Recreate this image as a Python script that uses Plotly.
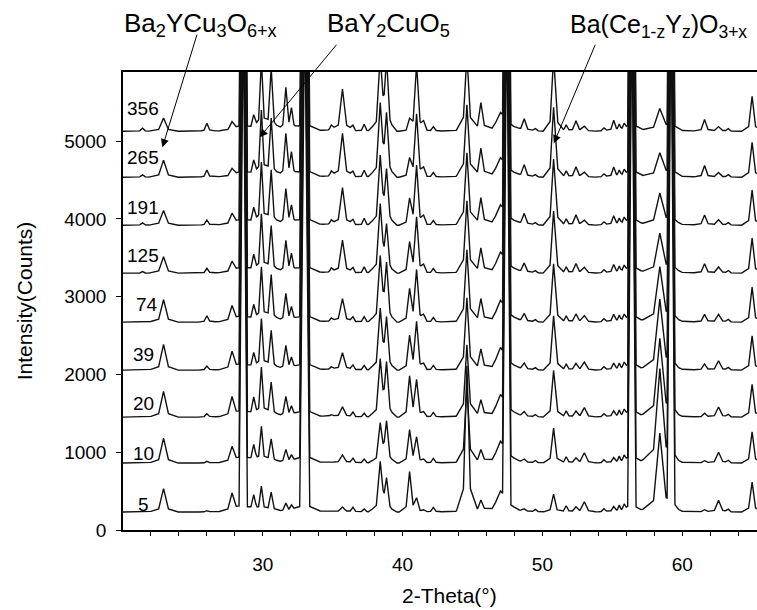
import plotly.graph_objects as go

# ---------------- data ----------------
samples = ["5", "10", "20", "39", "74", "125", "191", "265", "356"]
baselines = [231, 861, 1452, 2056, 2673, 3303, 3920, 4537, 5128]

# peak positions (2-theta, deg) and half base widths (deg)
peak_2theta = [21.4, 22.9, 26.0, 27.8, 28.6, 29.35, 29.9, 30.6, 31.65, 32.05,
               33.0, 34.9, 35.7, 36.45, 37.25, 38.4, 38.85, 40.5, 41.0, 41.5,
               42.2, 44.6, 45.6, 47.0, 47.45, 48.7, 49.5, 50.8, 51.7, 52.4,
               53.0, 54.4, 55.1, 55.5, 55.85, 56.4, 58.4, 59.2, 61.6, 62.6,
               63.3, 65.0, 28.6, 33.0, 44.6, 47.45, 56.4, 59.2]
peak_halfwidth = [0.2, 0.35, 0.2, 0.3, 0.3, 0.2, 0.2, 0.22, 0.22, 0.18,
                  0.36, 0.2, 0.3, 0.2, 0.2, 0.28, 0.25, 0.25, 0.25, 0.2,
                  0.2, 0.25, 0.25, 0.6, 0.3, 0.25, 0.2, 0.25, 0.2, 0.25,
                  0.3, 0.2, 0.2, 0.15, 0.15, 0.3, 0.45, 0.28, 0.25, 0.3,
                  0.2, 0.25, 1.0, 1.1, 0.8, 0.8, 0.8, 0.8]

# peak heights above baseline (counts) for every sample
h_5 = [0, 300, 15, 220, 6500, 190, 320, 245, 100, 60,
       6500, 0, 60, 60, 40, 620, 385, 510, 150, 20,
       60, 1800, 130, 220, 6500, 30, 30, 230, 80, 60,
       130, 40, 60, 70, 60, 6500, 1000, 6500, 30, 150,
       30, 385, 80, 100, 80, 100, 100, 80]
h_10 = [0, 320, 20, 190, 6500, 205, 460, 300, 160, 70,
        6500, 0, 100, 60, 50, 480, 500, 410, 310, 30,
        60, 900, 150, 230, 6500, 40, 30, 450, 80, 60,
        130, 40, 60, 70, 60, 6500, 1200, 6500, 30, 140,
        30, 400, 80, 100, 80, 100, 100, 80]
h_20 = [0, 330, 40, 240, 6500, 220, 630, 440, 250, 100,
        6500, 20, 130, 60, 50, 700, 650, 500, 450, 40,
        60, 850, 200, 240, 6500, 60, 30, 600, 80, 70,
        120, 40, 70, 70, 60, 6500, 1000, 6500, 50, 130,
        30, 420, 80, 100, 80, 100, 100, 80]
h_39 = [0, 330, 50, 220, 6500, 190, 650, 500, 300, 120,
        6500, 30, 220, 60, 60, 750, 620, 410, 600, 50,
        60, 850, 250, 240, 6500, 80, 30, 700, 80, 80,
        100, 40, 80, 70, 60, 6500, 900, 6500, 80, 120,
        30, 440, 80, 100, 80, 100, 100, 80]
h_74 = [0, 290, 80, 190, 6500, 190, 700, 600, 350, 150,
        6500, 40, 300, 60, 70, 800, 700, 390, 650, 60,
        60, 850, 280, 230, 6500, 100, 30, 750, 80, 100,
        80, 40, 90, 70, 60, 6500, 700, 6500, 100, 100,
        30, 450, 80, 100, 80, 100, 100, 80]
h_125 = [20, 210, 60, 130, 6500, 205, 750, 600, 400, 200,
         6500, 50, 420, 60, 80, 850, 560, 360, 700, 70,
         60, 850, 300, 220, 6500, 120, 30, 800, 80, 120,
         70, 40, 100, 70, 60, 6500, 500, 6500, 120, 80,
         30, 450, 80, 100, 80, 100, 100, 80]
h_191 = [30, 190, 65, 130, 6500, 190, 800, 700, 450, 200,
         6500, 50, 480, 60, 90, 850, 650, 300, 750, 80,
         60, 850, 330, 210, 6500, 140, 30, 850, 80, 130,
         60, 40, 110, 70, 60, 6500, 400, 6500, 130, 70,
         30, 450, 80, 100, 80, 100, 100, 80]
h_265 = [30, 220, 90, 90, 6500, 180, 850, 750, 540, 260,
         6500, 60, 560, 60, 90, 900, 750, 200, 800, 80,
         60, 850, 350, 200, 6500, 150, 30, 900, 80, 130,
         60, 40, 120, 70, 60, 6500, 300, 6500, 150, 60,
         30, 450, 80, 100, 80, 100, 100, 80]
h_356 = [40, 170, 100, 100, 6500, 170, 900, 800, 540, 235,
         6500, 60, 540, 60, 90, 900, 850, 110, 850, 80,
         60, 900, 345, 190, 6500, 150, 30, 950, 80, 130,
         60, 40, 130, 70, 60, 6500, 280, 6500, 150, 60,
         30, 450, 80, 100, 80, 100, 100, 80]
heights = [h_5, h_10, h_20, h_39, h_74, h_125, h_191, h_265, h_356]

x_tick_values = list(range(22, 66, 2))
x_tick_labels = [str(v) if v % 10 == 0 else "" for v in x_tick_values]
y_tick_values = [0, 1000, 2000, 3000, 4000, 5000]
phase_labels = ["Ba<sub>2</sub>YCu<sub>3</sub>O<sub>6+x</sub>",
                "BaY<sub>2</sub>CuO<sub>5</sub>",
                "Ba(Ce<sub>1-z</sub>Y<sub>z</sub>)O<sub>3+x</sub>"]

# ---------------- layout constants ----------------
X_MIN, X_MAX = 20.0, 65.35
Y_MAX = 5890
FONT = "Liberation Sans, Arial, sans-serif"
CORE, TAIL, TAIL_SPREAD = 0.8, 0.2, 3.0   # peak profile: sharp core + broad foot

fig = go.Figure()
for name, base, hts in zip(samples, baselines, heights):
    breaks = [X_MIN, X_MAX]
    for p, w in zip(peak_2theta, peak_halfwidth):
        breaks += [p - TAIL_SPREAD * w, p - w, p, p + w, p + TAIL_SPREAD * w]
    xs = sorted(set(b for b in breaks if X_MIN <= b <= X_MAX))
    ys = []
    for x in xs:
        s = base
        for p, w, h in zip(peak_2theta, peak_halfwidth, hts):
            d = abs(x - p)
            if h >= 3000:            # off-scale reflections drawn as plain spikes
                s += h * max(0.0, 1 - d / w)
            else:
                s += h * (CORE * max(0.0, 1 - d / w) + TAIL * max(0.0, 1 - d / (TAIL_SPREAD * w)))
        ys.append(s)
    fig.add_trace(go.Scatter(x=xs, y=ys, mode="lines", name=name,
                             line=dict(color="#111111", width=1.4), showlegend=False,
                             hoverinfo="skip"))

# sample labels
label_x = [21.5, 21.5, 21.46, 21.46, 21.74, 21.46, 21.4, 21.46, 21.46]
label_y = [334, 990, 1632, 2262, 2905, 3535, 4152, 4794, 5424]
for name, lx, ly in zip(samples, label_x, label_y):
    fig.add_annotation(x=lx, y=ly, text=name, showarrow=False,
                       font=dict(family=FONT, size=19, color="black"),
                       xanchor="center", yanchor="middle")

# phase labels (paper coords derived from pixel positions)
def px_to_paper(px, py):
    return (px - 123) / 634.0, (530 - py) / 458.0

for txt, (px, py), size in zip(phase_labels, [(122, 25), (325, 25), (568, 26)], [26, 26, 25]):
    xp, yp = px_to_paper(px, py)
    fig.add_annotation(x=xp, y=yp, xref="paper", yref="paper", text=txt,
                       showarrow=False, xanchor="left", yanchor="middle",
                       font=dict(family=FONT, size=size, color="black"))

# arrows: head in data coords, tail offsets in pixels
for hx, hy, ax, ay in [(22.82, 4923, 35, -114), (29.78, 5051, 78, -94), (50.82, 4974, 42, -100)]:
    fig.add_annotation(x=hx, y=hy, text="", showarrow=True, ax=ax, ay=ay,
                       arrowhead=2, arrowsize=1.6, arrowwidth=1, arrowcolor="black")

# x axis title
xp, yp = px_to_paper(449, 595)
fig.add_annotation(x=xp, y=yp, xref="paper", yref="paper", text="2-Theta(°)",
                   showarrow=False, xanchor="center", yanchor="middle",
                   font=dict(family=FONT, size=21, color="black"))

fig.update_layout(
    width=757, height=610,
    margin=dict(l=123, r=0, t=72, b=80),
    paper_bgcolor="white", plot_bgcolor="white",
    font=dict(family=FONT, color="black"),
    xaxis=dict(range=[X_MIN, X_MAX], tickmode="array", tickvals=x_tick_values,
               ticktext=x_tick_labels, ticks="outside", ticklen=4, tickcolor="black",
               showline=True, linecolor="black", linewidth=1.5, mirror=True,
               showgrid=False, zeroline=False, tickfont=dict(size=19),
               ticklabelstandoff=12),
    yaxis=dict(range=[0, Y_MAX], tickmode="array", tickvals=y_tick_values,
               ticks="outside", ticklen=5, tickcolor="black",
               showline=True, linecolor="black", linewidth=1.5,
               showgrid=False, zeroline=False, tickfont=dict(size=19),
               ticklabelstandoff=6,
               title=dict(text="Intensity(Counts)", font=dict(size=21), standoff=26)),
)

fig.write_html("out.html")
